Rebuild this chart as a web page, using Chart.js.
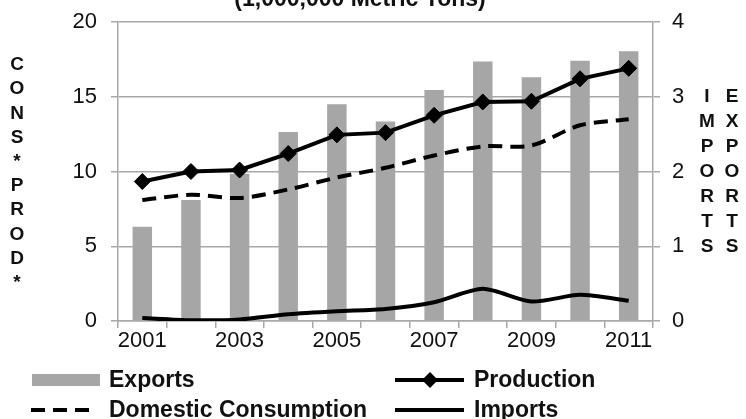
<!DOCTYPE html>
<html>
<head>
<meta charset="utf-8">
<script src="https://cdn.jsdelivr.net/npm/chart.js@4.4.1/dist/chart.umd.min.js"></script>
<style>
  html, body { margin: 0; padding: 0; background: #fff; }
  #wrap { position: relative; width: 746px; height: 419px; }
</style>
</head>
<body>
<div id="wrap"><canvas id="chart" width="746" height="419"></canvas></div>
<script>
// Dados do gráfico
const years = ['2001', '2002', '2003', '2004', '2005', '2006', '2007', '2008', '2009', '2010', '2011'];
const exportsData = [1.26, 1.62, 1.97, 2.53, 2.90, 2.67, 3.09, 3.47, 3.26, 3.48, 3.61];
const production = [9.33, 10.0, 10.1, 11.2, 12.45, 12.6, 13.76, 14.65, 14.7, 16.2, 16.9];
const consumption = [8.1, 8.44, 8.23, 8.8, 9.6, 10.25, 11.07, 11.68, 11.74, 13.09, 13.5];
const importsData = [0.04, 0.01, 0.02, 0.09, 0.13, 0.16, 0.25, 0.43, 0.26, 0.35, 0.27];
const leftTicks = [0, 5, 10, 15, 20];
const rightTicks = [0, 1, 2, 3, 4];

const titleText = '(1,000,000 Metric Tons)';
const leftLetters = ['C', 'O', 'N', 'S', '*', 'P', 'R', 'O', 'D', '*'];
const importsLetters = ['I', 'M', 'P', 'O', 'R', 'T', 'S'];
const exportsLetters = ['E', 'X', 'P', 'O', 'R', 'T', 'S'];

const FONT = '"Liberation Sans", Arial, sans-serif';
const GRID = '#a8a8a8';

// Título cortado, letras verticais e legenda
const extrasPlugin = {
    id: 'extras',
    afterDraw(chart) {
        const ctx = chart.ctx;
        ctx.save();
        ctx.fillStyle = '#111';
        ctx.textAlign = 'center';

        ctx.font = 'bold 23px ' + FONT;
        ctx.textBaseline = 'alphabetic';
        ctx.fillText(titleText, 360, 6);

        ctx.font = 'bold 19px ' + FONT;
        ctx.textBaseline = 'middle';
        leftLetters.forEach((l, i) => ctx.fillText(l, 17, 65 + i * 24.2));
        importsLetters.forEach((l, i) => ctx.fillText(l, 707, 97 + i * 25));
        exportsLetters.forEach((l, i) => ctx.fillText(l, 732, 97 + i * 25));

        // legenda
        const ds = chart.data.datasets;
        const items = [
            { d: ds[2], x: 32, y: 380, tx: 109 },
            { d: ds[0], x: 395, y: 380, tx: 474 },
            { d: ds[1], x: 31, y: 410, tx: 109 },
            { d: ds[3], x: 395, y: 410, tx: 474 }
        ];
        items.forEach(it => {
            const d = it.d;
            if (d.type === 'bar') {
                ctx.fillStyle = d.backgroundColor;
                ctx.fillRect(it.x, it.y - 6, 68, 12);
            } else {
                ctx.strokeStyle = d.borderColor;
                ctx.lineWidth = d.borderWidth;
                ctx.setLineDash(d.borderDash || []);
                ctx.beginPath();
                ctx.moveTo(it.x, it.y);
                ctx.lineTo(it.x + (d.borderDash ? 62 : 69), it.y);
                ctx.stroke();
                ctx.setLineDash([]);
                if (d.pointRadius > 0) {
                    const r = d.pointRadius;
                    ctx.fillStyle = d.pointBackgroundColor;
                    ctx.beginPath();
                    ctx.moveTo(it.x + 35 - r, it.y);
                    ctx.lineTo(it.x + 35, it.y - r);
                    ctx.lineTo(it.x + 35 + r, it.y);
                    ctx.lineTo(it.x + 35, it.y + r);
                    ctx.closePath();
                    ctx.fill();
                }
            }
            ctx.fillStyle = '#111';
            ctx.font = 'bold 23px ' + FONT;
            ctx.textAlign = 'left';
            ctx.textBaseline = 'middle';
            ctx.fillText(d.label, it.tx, it.y + 1);
        });
        ctx.restore();
    }
};

// largura fixa dos eixos verticais, sem padding extra em cima/baixo
function fixY(width) {
    return s => {
        s.width = width;
        s.paddingTop = 0;
        s.paddingBottom = 0;
    };
}

const ctx = document.getElementById('chart').getContext('2d');
const chart = new Chart(ctx, {
    data: {
        labels: years,
        datasets: [
            {
                type: 'line', label: 'Production', data: production, yAxisID: 'y',
                borderColor: '#000', borderWidth: 4, tension: 0,
                pointStyle: 'rectRot', pointRadius: 8, pointBorderWidth: 1,
                pointBackgroundColor: '#000', pointBorderColor: '#000', order: 1
            },
            {
                type: 'line', label: 'Domestic Consumption', data: consumption, yAxisID: 'y',
                borderColor: '#000', borderWidth: 4, borderDash: [14, 8], tension: 0.3,
                pointRadius: 0, order: 1
            },
            {
                type: 'bar', label: 'Exports', data: exportsData, yAxisID: 'y1',
                backgroundColor: '#a6a6a6', categoryPercentage: 1, barPercentage: 0.4, order: 2
            },
            {
                type: 'line', label: 'Imports', data: importsData, yAxisID: 'y1',
                borderColor: '#000', borderWidth: 4, tension: 0.25,
                pointRadius: 0, order: 1
            }
        ]
    },
    options: {
        responsive: false,
        animation: false,
        layout: { padding: { top: 22, left: 0, right: 0, bottom: 0 } },
        plugins: { legend: { display: false }, tooltip: { enabled: false } },
        scales: {
            x: {
                offset: true,
                grid: { offset: true, drawOnChartArea: false, drawTicks: true, tickLength: 7, color: GRID, lineWidth: 1.5 },
                border: { color: GRID, width: 1.5 },
                ticks: {
                    autoSkip: false, maxRotation: 0, padding: 0, color: '#111',
                    font: { family: FONT, size: 22 },
                    callback: (v, i) => (i % 2 === 0 ? years[i] : '')
                },
                afterFit: s => { s.height = 98; }
            },
            y: {
                position: 'left', min: leftTicks[0], max: leftTicks[leftTicks.length - 1],
                afterBuildTicks: s => { s.ticks = leftTicks.map(v => ({ value: v })); },
                grid: { color: GRID, lineWidth: 1.5, tickLength: 7 },
                border: { color: GRID, width: 1.5 },
                ticks: { padding: 14, color: '#111', font: { family: FONT, size: 22 } },
                afterFit: fixY(118)
            },
            y1: {
                position: 'right', min: rightTicks[0], max: rightTicks[rightTicks.length - 1],
                afterBuildTicks: s => { s.ticks = rightTicks.map(v => ({ value: v })); },
                grid: { drawOnChartArea: false, color: GRID, lineWidth: 1.5, tickLength: 7 },
                border: { color: GRID, width: 1.5 },
                ticks: { padding: 12, color: '#111', font: { family: FONT, size: 22 } },
                afterFit: fixY(93)
            }
        }
    },
    plugins: [extrasPlugin]
});
</script>
</body>
</html>
